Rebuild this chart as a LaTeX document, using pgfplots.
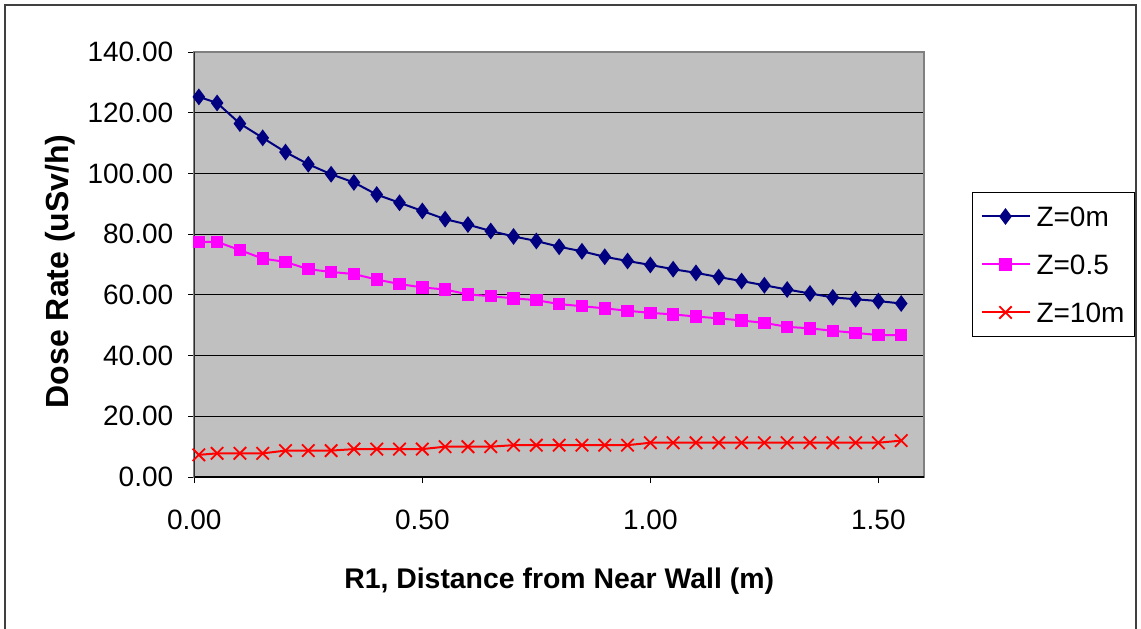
\documentclass[border=0pt]{standalone}
\usepackage{fontspec}
\setmainfont{Liberation Sans}
\usepackage{pgfplots}
\pgfplotsset{compat=1.18}
\definecolor{zblue}{RGB}{0,0,128}
\definecolor{zpink}{RGB}{255,0,255}
\definecolor{zred}{RGB}{255,0,0}
\definecolor{areagray}{RGB}{192,192,192}
\newcommand{\fs}{\fontsize{14}{16.8}\selectfont}

\begin{document}
\begin{tikzpicture}
\useasboundingbox (-97.15pt,-75.5pt) rectangle (473.35pt,238.5pt);
% outer chart frame
\draw[line width=1pt, black!75] (-94.65pt,-80pt) rectangle (470.85pt,236pt);
\begin{axis}[
  scale only axis,
  width=364.85pt, height=212.35pt,
  at={(0pt,0pt)}, anchor=south west,
  xmin=0, xmax=1.6,
  ymin=0, ymax=140,
  xtick={0,0.5,1,1.5},
  ytick={0,20,40,60,80,100,120,140},
  xtick pos=bottom, ytick pos=left,
  tick align=outside,
  major tick length=3pt,
  tick style={black, line width=0.5pt},
  ymajorgrids=true,
  grid style={black, line width=0.5pt},
  axis line style={draw=gray, line width=1pt},
  axis background/.style={fill=areagray},
  ticklabel style={font=\fs},
  /pgf/number format/.cd, fixed, fixed zerofill, precision=2, assume math mode=true,
  /pgfplots/.cd,
  xticklabel style={yshift=-9.8pt},
  yticklabel style={xshift=-4pt},
  xlabel={\textbf{R1, Distance from Near Wall (m)}},
  ylabel={\textbf{Dose Rate (uSv/h)}},
  xlabel style={font=\fontsize{14.2}{17}\selectfont, at={(axis description cs:0.5,0)}, anchor=base, yshift=-55.5pt},
  ylabel style={font=\fontsize{16}{19}\selectfont, at={(axis description cs:0,0.5)}, anchor=base, yshift=63pt, xshift=-3.3pt},
  legend style={
    at={(1.0658,0.6711)}, anchor=north west,
    draw=black, line width=0.5pt, fill=white,
    font=\fs,
    inner sep=4pt,
    row sep=8pt,
    column sep=2pt,
    nodes={inner xsep=1pt, inner ysep=3pt, text height=10pt, text depth=0pt},
  },
  legend cell align=left,
  legend image code/.code={%
    \draw[mark repeat=2, mark phase=2, #1] plot coordinates {(0pt,0pt) (12pt,0pt) (24pt,0pt)};},
]
\addplot[color=zblue, line width=1pt, mark=diamond*, mark size=3.4pt,
  mark options={solid, fill=zblue}]
  coordinates {
  (0.01,125.3)(0.05,123.3)(0.10,116.5)(0.15,111.8)(0.20,107.1)(0.25,103.1)
  (0.30,99.8)(0.35,97.1)(0.40,93.1)(0.45,90.4)(0.50,87.7)(0.55,85.0)
  (0.60,83.2)(0.65,81.1)(0.70,79.3)(0.75,77.8)(0.80,75.9)(0.85,74.4)
  (0.90,72.6)(0.95,71.2)(1.00,69.9)(1.05,68.5)(1.10,67.3)(1.15,65.9)
  (1.20,64.6)(1.25,63.2)(1.30,61.8)(1.35,60.5)(1.40,59.2)(1.45,58.6)
  (1.50,58.0)(1.55,57.2)
  };
\addlegendentry{Z=0m}
\addplot[color=zpink, line width=1pt, mark=square*, mark size=2.6pt,
  mark options={solid, fill=zpink}]
  coordinates {
  (0.01,77.5)(0.05,77.5)(0.10,74.8)(0.15,72.0)(0.20,70.9)(0.25,68.5)
  (0.30,67.6)(0.35,66.9)(0.40,65.1)(0.45,63.6)(0.50,62.5)(0.55,61.8)
  (0.60,60.2)(0.65,59.6)(0.70,58.9)(0.75,58.3)(0.80,57.0)(0.85,56.3)
  (0.90,55.6)(0.95,54.8)(1.00,54.1)(1.05,53.6)(1.10,52.9)(1.15,52.3)
  (1.20,51.6)(1.25,50.8)(1.30,49.5)(1.35,49.0)(1.40,48.2)(1.45,47.5)
  (1.50,46.8)(1.55,46.8)
  };
\addlegendentry{Z=0.5}
\addplot[color=zred, line width=1pt, mark=x, mark size=4.4pt,
  mark options={solid, line width=0.9pt}]
  coordinates {
  (0.01,7.3)(0.05,7.8)(0.10,7.8)(0.15,7.8)(0.20,8.7)(0.25,8.7)
  (0.30,8.7)(0.35,9.2)(0.40,9.2)(0.45,9.2)(0.50,9.2)(0.55,10.0)
  (0.60,10.0)(0.65,10.0)(0.70,10.5)(0.75,10.5)(0.80,10.5)(0.85,10.5)
  (0.90,10.5)(0.95,10.5)(1.00,11.3)(1.05,11.3)(1.10,11.3)(1.15,11.3)
  (1.20,11.3)(1.25,11.3)(1.30,11.3)(1.35,11.3)(1.40,11.3)(1.45,11.3)
  (1.50,11.3)(1.55,12.0)
  };
\addlegendentry{Z=10m}
\draw[black, line width=0.6pt] (rel axis cs:0,1) -- (rel axis cs:0,0) -- (rel axis cs:1,0);
\end{axis}
\end{tikzpicture}
\end{document}
